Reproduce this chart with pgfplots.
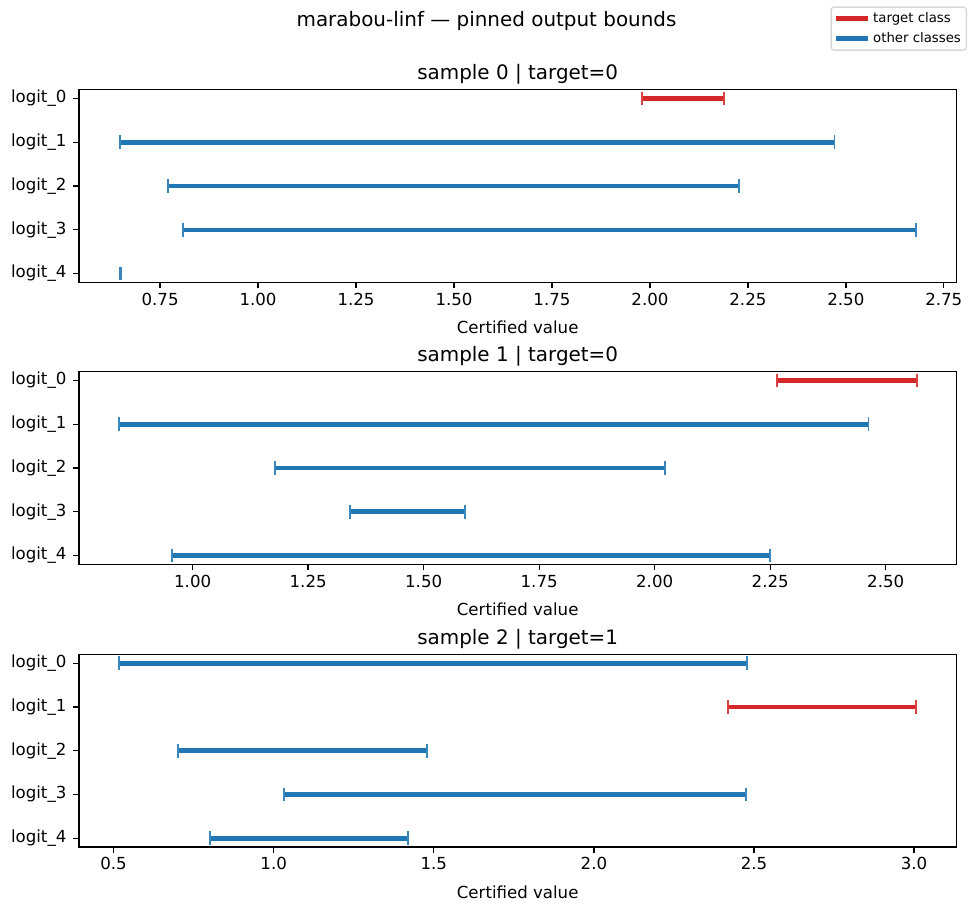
\documentclass[border=0pt]{standalone}
\usepackage{pgfplots}
\pgfplotsset{compat=1.18}
\usepackage{fontspec}
\setmainfont{DejaVu Sans}

\definecolor{mplblue}{HTML}{1F77B4}
\definecolor{mplred}{HTML}{D62728}

\pgfplotsset{
  bounds panel/.style={
    scale only axis,
    width=631.7bp, height=138.6bp,
    anchor=south west,
    y dir=reverse,
    ymin=-0.2, ymax=4.2,
    ytick={0,1,2,3,4},
    yticklabels={logit\_0,logit\_1,logit\_2,logit\_3,logit\_4},
    xtick pos=lower, ytick pos=left,
    tick align=outside,
    major tick length=4.2bp,
    axis line style={line width=0.96bp},
    every tick/.style={line width=0.96bp, black},
    /pgf/number format/assume math mode=true,
    tick label style={font=\fontsize{12}{14.4}\selectfont},
    xticklabel style={anchor=base, yshift=-12.2bp},
    yticklabel style={anchor=east, inner sep=0pt, xshift=-4.7bp},
    xlabel={Certified value},
    x label style={at={(axis description cs:0.5,0)}, anchor=base, yshift=-36.7bp,
                   font=\fontsize{12}{14.4}\selectfont},
    title style={at={(axis description cs:0.5,1)}, anchor=base, yshift=1.2bp,
                 font=\fontsize{14.4}{17}\selectfont},
  },
  other/.style={draw=mplblue, line width=3.3bp, mark=|, mark size=5bp,
    mark options={draw=mplblue!88!white, line width=1.3bp, solid}, forget plot},
  target/.style={draw=mplred, line width=3.3bp, mark=|, mark size=5bp,
    mark options={draw=mplred!88!white, line width=1.3bp, solid}, forget plot},
}

\begin{document}
\begin{tikzpicture}
\useasboundingbox (0bp,0bp) rectangle (700.56bp,657.36bp);

\node[anchor=base, font=\fontsize{14.4}{17}\selectfont] at (350.3bp,638.1bp)
  {marabou-linf — pinned output bounds};

% sample 0
\begin{axis}[bounds panel, at={(56.88bp,454.1bp)},
  title={sample 0 | target=0},
  xmin=0.543, xmax=2.782,
  xtick={0.75,1.00,1.25,1.50,1.75,2.00,2.25,2.50,2.75},
  xticklabel style={/pgf/number format/.cd, fixed, fixed zerofill, precision=2},
  legend style={at={(1.0122,1.433)}, anchor=north east,
    font=\fontsize{9.6}{11.5}\selectfont, draw=black!15, rounded corners=2bp,
    line width=0.96bp, inner sep=2bp, row sep=1.5bp},
  legend cell align=left,
  legend image code/.code={\draw[#1] (0bp,0bp) -- (23bp,0bp);},
]
\addlegendimage{draw=mplred, line width=3.3bp}
\addlegendentry{target class}
\addlegendimage{draw=mplblue, line width=3.3bp}
\addlegendentry{other classes}
\addplot[target] coordinates {(1.979,0) (2.188,0)};
\addplot[other]  coordinates {(0.647,1) (2.471,1)};
\addplot[other]  coordinates {(0.770,2) (2.228,2)};
\addplot[other]  coordinates {(0.808,3) (2.678,3)};
\addplot[other]  coordinates {(0.647,4) (0.651,4)};
\end{axis}

% sample 1
\begin{axis}[bounds panel, at={(56.88bp,251.1bp)},
  title={sample 1 | target=0},
  xmin=0.754, xmax=2.653,
  xtick={1.00,1.25,1.50,1.75,2.00,2.25,2.50},
  xticklabel style={/pgf/number format/.cd, fixed, fixed zerofill, precision=2},
]
\addplot[target] coordinates {(2.264,0) (2.567,0)};
\addplot[other]  coordinates {(0.840,1) (2.463,1)};
\addplot[other]  coordinates {(1.178,2) (2.023,2)};
\addplot[other]  coordinates {(1.341,3) (1.590,3)};
\addplot[other]  coordinates {(0.955,4) (2.249,4)};
\end{axis}

% sample 2
\begin{axis}[bounds panel, at={(56.88bp,47.5bp)},
  title={sample 2 | target=1},
  xmin=0.392, xmax=3.132,
  xtick={0.5,1.0,1.5,2.0,2.5,3.0},
  xticklabel style={/pgf/number format/.cd, fixed, fixed zerofill, precision=1},
]
\addplot[other]  coordinates {(0.517,0) (2.479,0)};
\addplot[target] coordinates {(2.419,1) (3.007,1)};
\addplot[other]  coordinates {(0.700,2) (1.479,2)};
\addplot[other]  coordinates {(1.031,3) (2.476,3)};
\addplot[other]  coordinates {(0.801,4) (1.420,4)};
\end{axis}
\end{tikzpicture}
\end{document}
